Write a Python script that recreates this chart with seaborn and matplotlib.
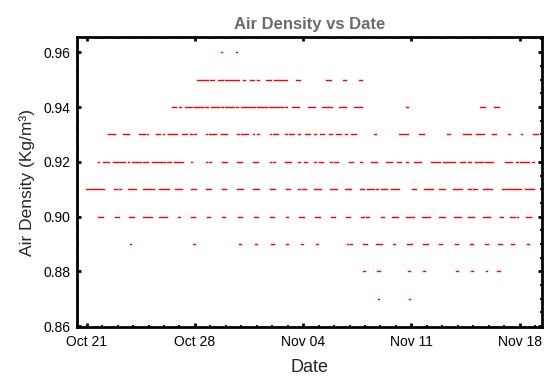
import numpy as np
import pandas as pd
import matplotlib
matplotlib.use("Agg")
import matplotlib.pyplot as plt
import matplotlib.dates as mdates
from matplotlib.ticker import MultipleLocator, FormatStrFormatter
import seaborn as sns

# readings as (start, end) runs, in days after Oct 21 00:00, one list per density level
base_date = pd.Timestamp("2023-10-21")

lvl_096 = [(8.69, 8.75), (9.66, 9.72)]
lvl_095 = [(7.11, 7.83), (7.98, 8.21), (8.47, 8.80), (8.93, 9.83), (10.11, 10.22), (10.56, 10.80),
           (11.04, 11.17), (11.59, 11.92), (12.11, 12.28), (12.35, 12.48), (12.56, 12.95),
           (13.53, 13.77), (15.47, 15.80), (16.57, 16.77), (17.64, 17.79)]
lvl_094 = [(5.54, 5.76), (5.97, 6.08), (6.36, 6.79), (6.94, 7.55), (7.68, 7.83), (8.02, 8.56),
           (8.67, 8.80), (8.93, 9.51), (9.68, 9.79), (9.96, 10.87), (11.00, 11.66), (11.79, 11.98),
           (12.07, 12.69), (12.82, 12.95), (13.28, 13.71), (14.31, 14.78), (15.24, 15.63),
           (15.69, 15.84), (16.32, 16.79), (17.29, 17.81), (20.63, 20.76), (25.41, 25.76),
           (26.34, 26.66)]
lvl_093 = [(1.37, 1.81), (2.32, 2.75), (3.38, 3.75), (3.90, 3.98), (4.46, 4.74), (4.91, 4.98),
           (5.23, 5.32), (5.39, 5.86), (6.17, 6.49), (6.68, 6.81), (6.94, 7.09), (7.70, 7.80),
           (7.93, 8.37), (8.67, 8.80), (8.90, 9.10), (9.72, 9.85), (9.96, 10.46), (10.74, 10.84),
           (11.00, 11.17), (11.85, 11.92), (12.03, 12.18), (12.24, 12.37), (12.82, 12.95),
           (13.08, 13.41), (13.69, 13.79), (14.12, 14.44), (14.68, 14.81), (15.11, 15.37),
           (15.69, 15.86), (16.10, 16.45), (16.70, 16.81), (17.09, 17.42), (18.58, 18.71),
           (20.20, 20.81), (21.49, 21.82), (23.33, 23.49), (24.31, 24.83), (25.20, 25.67),
           (26.19, 26.47), (27.27, 27.38), (28.09, 28.17), (28.86, 29.17)]
lvl_092 = [(0.73, 0.79), (1.07, 1.46), (1.68, 1.81), (1.87, 1.98), (2.04, 2.45), (2.67, 2.73),
           (2.91, 3.51), (3.62, 3.75), (3.83, 3.98), (4.24, 5.04), (5.19, 5.45), (5.65, 6.25),
           (6.75, 6.83), (7.72, 7.80), (7.91, 8.02), (8.75, 9.06), (9.72, 9.85), (9.94, 10.07),
           (10.78, 10.87), (10.95, 11.08), (11.85, 11.92), (12.05, 12.18), (12.84, 12.95),
           (13.00, 13.23), (13.64, 13.77), (14.03, 14.25), (14.68, 14.81), (15.00, 15.26),
           (15.71, 15.84), (16.01, 16.25), (16.96, 17.22), (17.68, 17.81), (18.37, 18.78),
           (19.34, 19.77), (20.09, 20.31), (20.68, 20.81), (21.17, 21.62), (22.27, 22.83),
           (23.03, 23.84), (24.14, 24.44), (24.68, 24.83), (25.09, 25.44), (25.52, 25.65),
           (25.78, 25.93), (26.04, 26.28), (27.03, 27.51), (27.74, 27.89), (28.00, 28.43),
           (28.50, 28.58), (28.80, 28.93)]
lvl_091 = [(-0.05, 1.14), (1.76, 1.94), (2.07, 2.19), (2.65, 3.21), (3.66, 4.35), (4.65, 5.32),
           (5.71, 6.15), (6.75, 7.05), (7.74, 8.02), (8.75, 9.01), (9.75, 10.09), (10.78, 11.13),
           (11.85, 12.18), (12.89, 13.15), (13.69, 13.81), (13.90, 14.16), (14.68, 14.87),
           (14.96, 15.15), (15.73, 16.16), (16.73, 16.88), (16.92, 17.11), (17.70, 17.92),
           (18.13, 18.56), (18.69, 18.82), (19.02, 19.45), (19.71, 20.20), (21.02, 21.28),
           (21.82, 22.12), (22.16, 22.40), (22.77, 22.85), (22.92, 23.20), (23.69, 23.88),
           (23.97, 24.25), (24.68, 24.83), (24.98, 25.22), (25.65, 25.87), (25.91, 26.23),
           (26.84, 27.70), (27.74, 28.11), (28.35, 28.91)]
lvl_090 = [(0.75, 1.05), (1.81, 2.11), (2.73, 3.08), (3.64, 4.22), (4.67, 5.19), (5.91, 6.02),
           (6.75, 7.01), (7.78, 7.98), (8.78, 8.97), (9.81, 10.03), (10.82, 11.06), (11.87, 12.11),
           (12.87, 13.04), (13.71, 14.03), (14.74, 15.07), (15.80, 16.06), (16.77, 17.05),
           (17.74, 17.96), (18.07, 18.26), (19.02, 19.21), (19.73, 20.16), (20.68, 20.87),
           (20.93, 21.15), (21.69, 22.19), (22.77, 23.16), (23.75, 24.19), (24.66, 25.07),
           (25.65, 26.10), (26.71, 26.92), (27.35, 27.70), (27.83, 27.87), (28.39, 28.71)]
lvl_089 = [(2.80, 2.88), (6.88, 6.99), (9.87, 9.98), (10.87, 11.00), (11.94, 12.11), (12.89, 13.00),
           (13.88, 13.99), (14.83, 14.94), (16.81, 16.92), (17.01, 17.14), (17.85, 18.15),
           (18.69, 18.84), (18.91, 19.08), (19.79, 19.96), (20.72, 21.04), (21.73, 22.08),
           (22.77, 22.98), (23.80, 24.03), (24.77, 25.00), (25.76, 25.95), (26.62, 26.84),
           (27.42, 27.66), (28.45, 28.60)]
lvl_088 = [(17.87, 18.02), (18.76, 18.99), (20.81, 20.93), (21.75, 21.90), (23.86, 24.01),
           (24.85, 24.96), (25.80, 25.91), (26.56, 26.71)]
lvl_087 = [(18.82, 18.93), (20.83, 20.93)]

density_levels = [0.96, 0.95, 0.94, 0.93, 0.92, 0.91, 0.90, 0.89, 0.88, 0.87]
runs_by_level = [lvl_096, lvl_095, lvl_094, lvl_093, lvl_092, lvl_091, lvl_090, lvl_089, lvl_088, lvl_087]

x_tick_dates = ["2023-10-21", "2023-10-28", "2023-11-04", "2023-11-11", "2023-11-18"]
y_ticks = [0.86, 0.88, 0.90, 0.92, 0.94, 0.96]

# long table: two rows (start/end) per run, one unit id per run
rows = []
seg = 0
for dens, runs in zip(density_levels, runs_by_level):
    for s, e in runs:
        rows.append((base_date + pd.Timedelta(days=s), dens, seg))
        rows.append((base_date + pd.Timedelta(days=e), dens, seg))
        seg += 1
df = pd.DataFrame(rows, columns=["date", "density", "seg"])

sns.set_theme(style="ticks")
plt.rcParams['font.family'] = ['Liberation Sans', 'DejaVu Sans']

fig = plt.figure(figsize=(5.45, 3.76), dpi=100)
ax = fig.add_axes([0.1413, 0.1303, 0.8532, 0.7713])

sns.lineplot(data=df, x="date", y="density", units="seg", estimator=None, sort=False,
             color="red", lw=1.0, legend=False, ax=ax, solid_capstyle="projecting")

ax.set_xlim(base_date + pd.Timedelta(days=-0.63), base_date + pd.Timedelta(days=29.45))
ax.set_ylim(0.8597, 0.9656)

ax.set_xticks(pd.to_datetime(x_tick_dates))
ax.xaxis.set_major_formatter(mdates.DateFormatter("%b %d"))
ax.xaxis.set_minor_locator(mdates.DayLocator())
ax.set_yticks(y_ticks)
ax.yaxis.set_major_formatter(FormatStrFormatter("%.2f"))
ax.yaxis.set_minor_locator(MultipleLocator(0.005))

ax.tick_params(which="both", direction="in", top=True, right=True, colors="black")
ax.tick_params(which="major", length=3, width=2, labelsize=10)
ax.tick_params(axis="y", which="major", pad=5)
ax.tick_params(axis="x", which="major", pad=6)
ax.tick_params(which="minor", length=1.6, width=1.3)
for sp in ax.spines.values():
    sp.set_linewidth(2)
    sp.set_color("black")

ax.set_title("Air Density vs Date", fontsize=12, fontweight="bold", color="#6b6b6b", pad=6)
ax.set_xlabel("Date", fontsize=13, labelpad=7)
ax.set_ylabel("Air Density (Kg/m³)", fontsize=12.5, labelpad=6)

fig.savefig("out.png", dpi=100)
